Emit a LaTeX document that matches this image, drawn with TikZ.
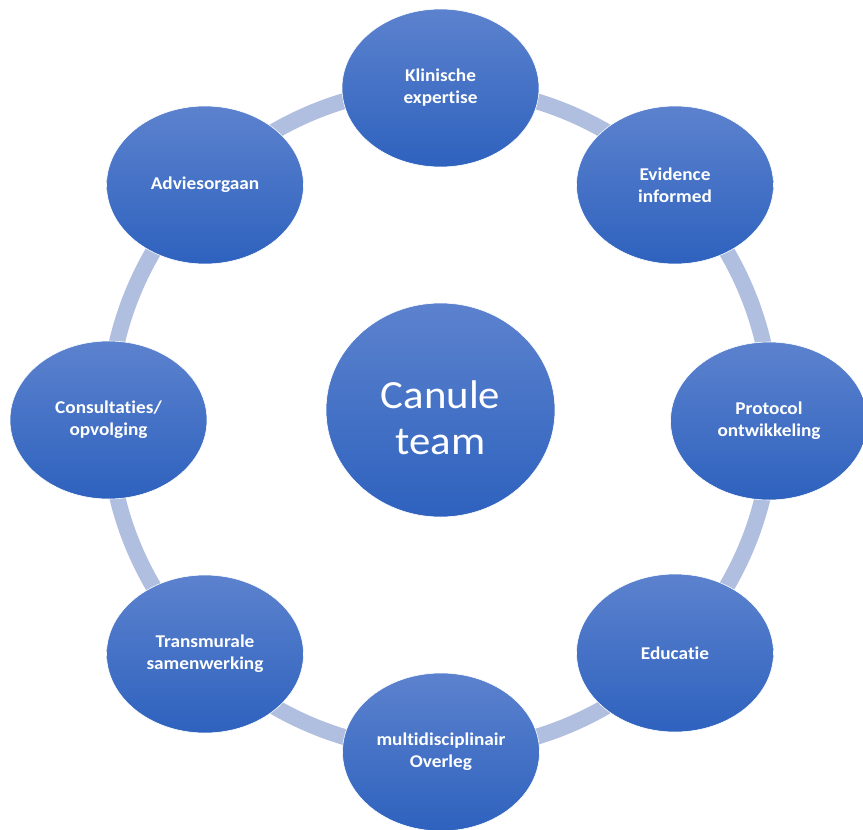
\documentclass[tikz,border=0pt]{standalone}
\usepackage{fontspec}
\setmainfont{Carlito}[FakeStretch=1.07, Ligatures={NoCommon,NoContextual,NoRequired}, RawFeature={-calt}]
\usetikzlibrary{shapes.geometric}
\definecolor{ringblue}{RGB}{176,190,224}
\definecolor{topblue}{RGB}{92,130,206}
\definecolor{botblue}{RGB}{46,98,190}
\tikzset{
  topic/.style={ellipse, minimum width=197bp, minimum height=158bp, inner sep=0pt,
    top color=topblue, bottom color=botblue, draw=white, line width=0.6bp,
    text=white, align=center,
    font=\fontsize{18bp}{22bp}\selectfont\bfseries},
  hub/.style={ellipse, minimum width=229bp, minimum height=214bp, inner sep=0pt,
    top color=topblue, bottom color=botblue, draw=white, line width=0.6bp},
  hubtext/.style={text=white, align=center, inner sep=0pt,
    font=\fontsize{40bp}{46bp}\selectfont},
  ring/.style={draw=ringblue, line width=16bp}
}
\begin{document}
\begin{tikzpicture}[x=1bp,y=-1bp]
\useasboundingbox (0,0) rectangle (863,830);
\coordinate (mid) at (440,419);
% ring that carries the eight topics
\draw[ring] (mid) circle [radius=332bp];
% topics around the ring
\node[topic] (klin)  at (440.5,88)  {Klinische\\expertise};
\node[topic] (evid)  at (675,185)   {Evidence\\informed};
\node[topic] (prot)  at (769,421)   {Protocol\\ontwikkeling};
\node[topic] (educ)  at (675,653)   {Educatie};
\node[topic] (multi) at (441,752)   {multidisciplinair\\Overleg};
\node[topic] (trans) at (205,654)   {Transmurale\\samenwerking};
\node[topic] (cons)  at (108.5,420) {Consultaties/\\opvolging};
\node[topic] (advi)  at (205,185)   {Adviesorgaan};
% central team
\node[hub] (team) at (440.5,410) {};
\node[hubtext] (teamlabel) at (440.5,418) {Canule\\team};
\end{tikzpicture}
\end{document}
